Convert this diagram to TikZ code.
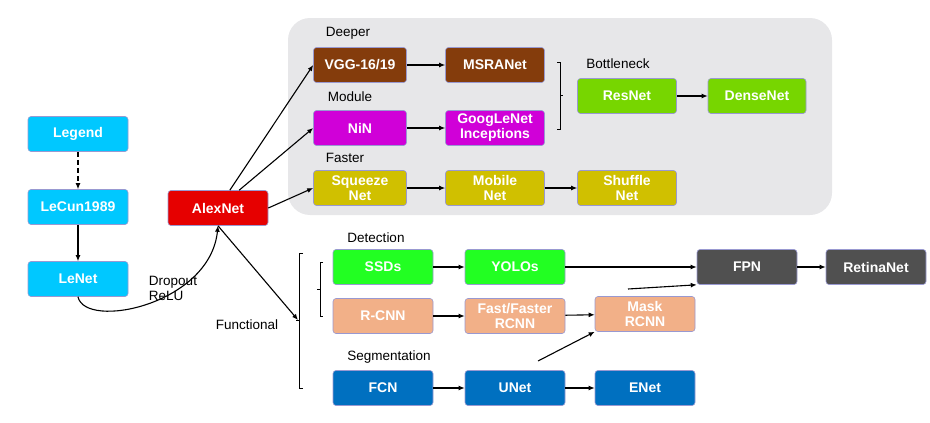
\documentclass[tikz,border=0pt]{standalone}
\usepackage{fontspec}
\setmainfont{Liberation Sans}
\usetikzlibrary{arrows.meta}
\begin{document}
\begin{tikzpicture}[x=1pt,y=-1pt,
 box/.style={draw=black!45!blue!40, line width=0.6pt, rounded corners=3pt, minimum width=100pt, minimum height=35pt, text=white, font=\bfseries\fontsize{14}{15}\selectfont, align=center, inner sep=1pt},
 lab/.style={font=\fontsize{13.5}{15}\selectfont, align=left},
 ar/.style={-{Latex[length=6pt,width=5pt]}, line width=1.1pt}]
\useasboundingbox (0,0) rectangle (930,423);
\fill[black!4!blue!3!gray!18, rounded corners=22pt] (288,18) rectangle (832,215);
\definecolor{cy}{HTML}{00C8FF}\definecolor{rd}{HTML}{E60000}
\definecolor{br}{HTML}{843C0C}\definecolor{mg}{HTML}{D000D8}
\definecolor{ol}{HTML}{D0C000}\definecolor{gr}{HTML}{77D600}
\definecolor{bg}{HTML}{22FF22}\definecolor{sa}{HTML}{F2B088}
\definecolor{bl}{HTML}{0070C0}\definecolor{dg}{HTML}{505050}
\node[box,fill=cy] (legend) at (78,134) {Legend};
\node[box,fill=cy] (lecun) at (78,207) {LeCun1989};
\node[box,fill=cy] (lenet) at (78,279) {LeNet};
\node[box,fill=rd] (alex) at (218,208) {AlexNet};
\node[box,fill=br,minimum width=93pt] (vgg) at (360,65) {VGG-16/19};
\node[box,fill=br,minimum width=99pt] (msra) at (495,65) {MSRANet};
\node[box,fill=mg,minimum width=93pt] (nin) at (360,128) {NiN};
\node[box,fill=mg,minimum width=99pt] (goog) at (495,128) {GoogLeNet\\Inceptions};
\node[box,fill=ol,minimum width=93pt] (sq) at (360,188) {Squeeze\\Net};
\node[box,fill=ol,minimum width=99pt] (mob) at (495,188) {Mobile\\Net};
\node[box,fill=ol,minimum width=99pt] (shuf) at (627,188) {Shuffle\\Net};
\node[box,fill=gr,minimum width=99pt] (res) at (627,96) {ResNet};
\node[box,fill=gr,minimum width=98pt] (dense) at (757,96) {DenseNet};
\node[box,fill=bg] (ssd) at (383,267) {SSDs};
\node[box,fill=bg] (yolo) at (515,267) {YOLOs};
\node[box,fill=dg] (fpn) at (747,267) {FPN};
\node[box,fill=dg] (ret) at (876,267) {RetinaNet};
\node[box,fill=sa] (rcnn) at (383,316) {R-CNN};
\node[box,fill=sa] (fast) at (515,316) {Fast/Faster\\RCNN};
\node[box,fill=sa] (mask) at (645,314) {Mask\\RCNN};
\node[box,fill=bl] (fcn) at (383,388) {FCN};
\node[box,fill=bl] (unet) at (515,388) {UNet};
\node[box,fill=bl] (enet) at (645,388) {ENet};
\node[lab] (l1) at (348,33) {Deeper};
\node[lab] (l2) at (350,97) {Module};
\node[lab] (l3) at (345,158) {Faster};
\node[lab] (l4) at (618,64) {Bottleneck};
\node[lab] (l5) at (376,238) {Detection};
\node[lab] (l6) at (389,357) {Segmentation};
\node[lab] (l7) at (247,325) {Functional};
\node[lab,align=left] (l8) at (173,288) {Dropout\\ReLU};
\draw[ar,dash pattern=on 5pt off 3pt] (legend) -- (lecun);
\draw[ar] (lecun) -- (lenet);
\draw[ar] (lenet.south) .. controls (85,330) and (210,305) .. (alex.south);
\draw[ar] (alex) -- (vgg.west);
\draw[ar] (alex) -- (nin.west);
\draw[ar] (alex.east) -- (sq.west);
\coordinate (fc) at (298,320);
\draw[ar] (alex.south) -- (fc);
\draw[ar] (vgg) -- (msra);
\draw[ar] (nin) -- (goog);
\draw[ar] (sq) -- (mob);
\draw[ar] (mob) -- (shuf);
\draw[ar] (res) -- (dense);
\draw[ar] (ssd) -- (yolo);
\draw[ar] (yolo) -- (fpn);
\draw[ar] (fpn) -- (ret);
\draw[ar] (rcnn) -- (fast);
\draw[ar] (fast) -- (mask);
\draw[ar] (fcn) -- (unet);
\draw[ar] (unet) -- (enet);
\coordinate (m1) at (628,289); \coordinate (u1) at (538,361);
\draw[ar] (m1) -- (fpn.south west);
\draw[ar] (u1) -- (mask.south west);
\draw[line width=0.7pt] (557,62) -- (560,62) -- (560,129) -- (557,129) (560,95) -- (563,95);
\draw[line width=0.7pt] (303,253) -- (299,253) -- (299,388) -- (303,388) (299,320) -- (296,320);
\draw[line width=0.7pt] (323,262) -- (320,262) -- (320,316) -- (323,316) (320,289) -- (317,289);
\end{tikzpicture}
\end{document}
